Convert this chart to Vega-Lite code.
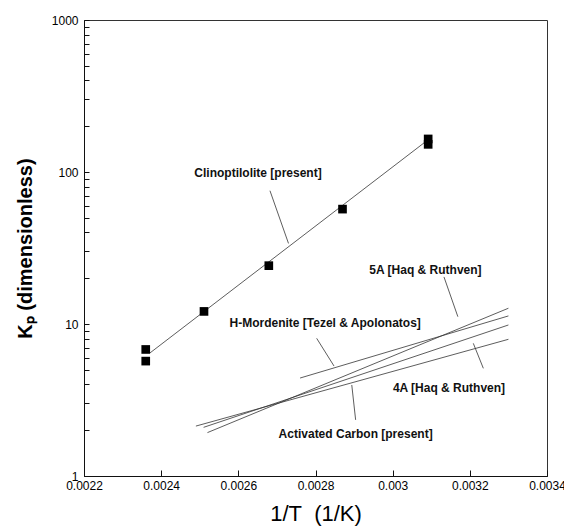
{
  "$schema": "https://vega.github.io/schema/vega-lite/v6.json",
  "width": 463,
  "height": 456,
  "autosize": "none",
  "padding": {"left": 84, "top": 20, "right": 17, "bottom": 54},
  "background": "white",
  "config": {
    "view": {"stroke": "#333", "strokeWidth": 1},
    "font": "Liberation Sans",
    "axis": {"grid": false, "domainColor": "#111", "tickColor": "#111", "labelColor": "#000", "titleColor": "#000", "labelFont": "Liberation Sans", "titleFont": "Liberation Sans"}
  },
  "datasets": {
    "clino_points": [
      {"x": 0.00236, "y": 6.8},
      {"x": 0.00236, "y": 5.7},
      {"x": 0.002511, "y": 12.1},
      {"x": 0.002679, "y": 24.2},
      {"x": 0.00287, "y": 57},
      {"x": 0.003092, "y": 152},
      {"x": 0.003092, "y": 165}
    ],
    "lines": [
      {"series": "Clinoptilolite [present]", "x": 0.002371, "y": 6.45},
      {"series": "Clinoptilolite [present]", "x": 0.003085, "y": 158},
      {"series": "5A [Haq & Ruthven]", "x": 0.00252, "y": 1.93},
      {"series": "5A [Haq & Ruthven]", "x": 0.0033, "y": 12.7},
      {"series": "4A [Haq & Ruthven]", "x": 0.00251, "y": 2.09},
      {"series": "4A [Haq & Ruthven]", "x": 0.0033, "y": 9.85},
      {"series": "Activated Carbon [present]", "x": 0.00249, "y": 2.13},
      {"series": "Activated Carbon [present]", "x": 0.0033, "y": 7.93},
      {"series": "H-Mordenite [Tezel & Apolonatos]", "x": 0.00276, "y": 4.41},
      {"series": "H-Mordenite [Tezel & Apolonatos]", "x": 0.0033, "y": 11.3}
    ],
    "labels": [
      {"text": "Clinoptilolite [present]", "x": 0.002651, "y": 98},
      {"text": "5A [Haq & Ruthven]", "x": 0.003085, "y": 22.7},
      {"text": "H-Mordenite [Tezel & Apolonatos]", "x": 0.002825, "y": 10.1},
      {"text": "4A [Haq & Ruthven]", "x": 0.003146, "y": 3.78},
      {"text": "Activated Carbon [present]", "x": 0.002904, "y": 1.89}
    ],
    "leaders": [
      {"x": 0.002682, "y": 75.3, "x2": 0.00273, "y2": 33.9},
      {"x": 0.003133, "y": 20.4, "x2": 0.003169, "y2": 11.17},
      {"x": 0.002803, "y": 8.05, "x2": 0.002848, "y2": 5.29},
      {"x": 0.003235, "y": 5.11, "x2": 0.003209, "y2": 7.46},
      {"x": 0.002904, "y": 2.34, "x2": 0.002894, "y2": 3.97}
    ]
  },
  "layer": [
    {
      "data": {"name": "lines"},
      "mark": {"type": "line", "color": "#333", "strokeWidth": 0.8},
      "encoding": {
        "x": {
          "field": "x", "type": "quantitative",
          "scale": {"domain": [0.0022, 0.0034], "nice": false, "zero": false},
          "axis": {
            "values": [0.0022, 0.0024, 0.0026, 0.0028, 0.003, 0.0032, 0.0034],
            "labelExpr": "format(datum.value, '~g')",
            "tickSize": -6, "labelPadding": 10, "labelFontSize": 12,
            "title": "1/T\u00a0\u00a0(1/K)", "titleFontSize": 22, "titleFontWeight": "normal", "titlePadding": 12, "labelFlush": false
          }
        },
        "y": {
          "field": "y", "type": "quantitative",
          "scale": {"type": "log", "domain": [1, 1000], "nice": false},
          "axis": {
            "values": [1,2,3,4,5,6,7,8,9,10,20,30,40,50,60,70,80,90,100,200,300,400,500,600,700,800,900,1000],
            "labelExpr": "indexof([1,10,100,1000], datum.value) >= 0 ? format(datum.value, 'd') : ''",
            "tickSize": -5, "labelPadding": 11, "labelFontSize": 12,
            "title": "Kₚ (dimensionless)", "titleFontSize": 20, "titleFontWeight": "bold", "titlePadding": 16, "labelFlush": false
          }
        },
        "detail": {"field": "series"}
      }
    },
    {
      "data": {"name": "clino_points"},
      "mark": {"type": "point", "shape": "square", "filled": true, "color": "#000", "size": 75, "opacity": 1},
      "encoding": {
        "x": {"field": "x", "type": "quantitative"},
        "y": {"field": "y", "type": "quantitative"}
      }
    },
    {
      "data": {"name": "leaders"},
      "mark": {"type": "rule", "color": "#333", "strokeWidth": 0.8},
      "encoding": {
        "x": {"field": "x", "type": "quantitative"},
        "y": {"field": "y", "type": "quantitative"},
        "x2": {"field": "x2"},
        "y2": {"field": "y2"}
      }
    },
    {
      "data": {"name": "labels"},
      "mark": {"type": "text", "fontSize": 12, "fontWeight": "bold", "color": "#111", "align": "center", "baseline": "middle"},
      "encoding": {
        "x": {"field": "x", "type": "quantitative"},
        "y": {"field": "y", "type": "quantitative"},
        "text": {"field": "text"}
      }
    }
  ]
}
